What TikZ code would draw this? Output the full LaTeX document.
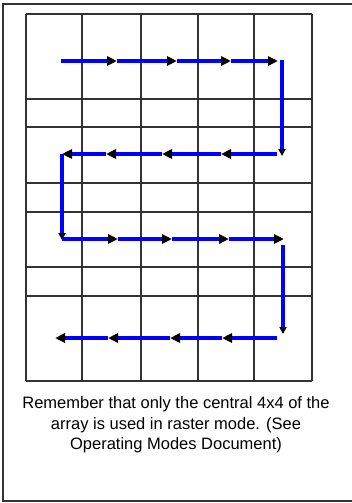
\documentclass[tikz,border=0pt]{standalone}
\usepackage{fontspec}
\setmainfont{Liberation Sans}
\usetikzlibrary{arrows.meta}

\begin{document}
\begin{tikzpicture}[x=1pt, y=-1pt, line width=1.6pt,
  gridline/.style={black!80},
  scan/.style={blue, line width=3.2pt, -{Triangle[length=10pt, width=9pt, black]}},
  scanend/.style={blue, line width=3.2pt, -{Triangle[length=7pt, width=7pt, black]}}]
  \useasboundingbox (0,0) rectangle (351,503);
  % frame (right edge falls outside)
  \draw[black!80] (356,4) -- (3,4) -- (3,501) -- (356,501);
  % array
  \foreach \x in {26,82,141,198,254,312}
    \draw[gridline] (\x,14) -- (\x,381);
  \foreach \y in {14,99,127,183,212,267,296,381}
    \draw[gridline] (26,\y) -- (312,\y);
  % raster path, row 1
  \coordinate (r1s) at (61,61);
  \coordinate (r1a) at (117,61);
  \coordinate (r1b) at (177,61);
  \coordinate (r1c) at (231,61);
  \coordinate (r1e) at (278,61);
  \draw[scan] (r1s) -- (r1a);
  \draw[scan] (r1a) -- (r1b);
  \draw[scan] (r1b) -- (r1c);
  \draw[scan] (r1c) -- (r1e);
  \coordinate (d1s) at (282,60);
  \coordinate (d1e) at (282,156);
  \draw[scanend] (d1s) -- (d1e);
  % row 2
  \coordinate (r2s) at (277,154);
  \coordinate (r2a) at (221,154);
  \coordinate (r2b) at (162,154);
  \coordinate (r2c) at (106,154);
  \coordinate (r2e) at (62,154);
  \draw[scan] (r2s) -- (r2a);
  \draw[scan] (r2a) -- (r2b);
  \draw[scan] (r2b) -- (r2c);
  \draw[scan] (r2c) -- (r2e);
  \coordinate (d2s) at (62,154);
  \coordinate (d2e) at (62,240);
  \draw[scanend] (d2s) -- (d2e);
  % row 3
  \coordinate (r3s) at (62,239);
  \coordinate (r3a) at (118,239);
  \coordinate (r3b) at (172,239);
  \coordinate (r3c) at (229,239);
  \coordinate (r3e) at (284,239);
  \draw[scan] (r3s) -- (r3a);
  \draw[scan] (r3a) -- (r3b);
  \draw[scan] (r3b) -- (r3c);
  \draw[scan] (r3c) -- (r3e);
  \coordinate (d3s) at (283,245);
  \coordinate (d3e) at (283,334);
  \draw[scanend] (d3s) -- (d3e);
  % row 4
  \coordinate (r4s) at (277,338);
  \coordinate (r4a) at (222,338);
  \coordinate (r4b) at (170,338);
  \coordinate (r4c) at (108,338);
  \coordinate (r4e) at (55,338);
  \draw[scan] (r4s) -- (r4a);
  \draw[scan] (r4a) -- (r4b);
  \draw[scan] (r4b) -- (r4c);
  \draw[scan] (r4c) -- (r4e);
  % note
  \node[align=center, font=\fontsize{16.5}{20.5}\selectfont, inner sep=0pt] (note) at (176,425)
    {Remember that only the central 4x4 of the\\array is used in raster mode. (See\\Operating Modes Document)};
\end{tikzpicture}
\end{document}
